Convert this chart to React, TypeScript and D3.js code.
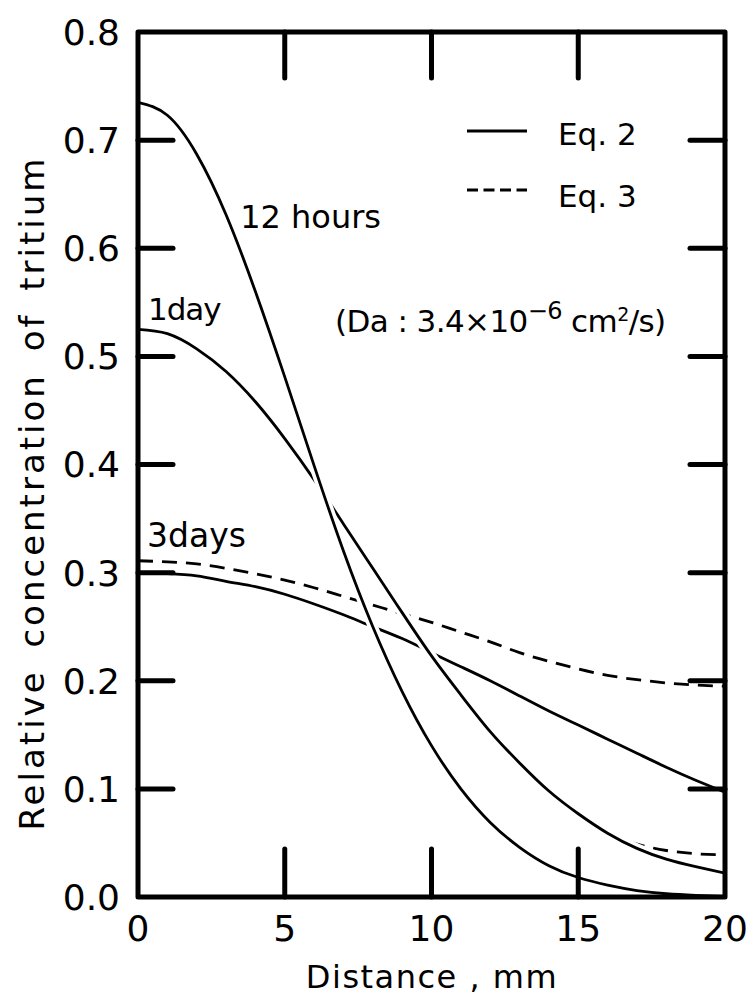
import React from "react";
import * as d3 from "d3";

// ---- data ----
const distance = [0, 1, 2, 3, 4, 5, 6, 7, 8, 9, 10, 11, 12, 13, 14, 15, 16, 17, 18, 19, 20];
const hours12Eq2 = [0.735, 0.723, 0.687, 0.631, 0.56, 0.481, 0.399, 0.32, 0.25, 0.19, 0.14, 0.1, 0.069, 0.046, 0.029, 0.018, 0.011, 0.006, 0.003, 0.0015, 0.0005];
const day1Eq2 = [0.525, 0.521, 0.507, 0.486, 0.458, 0.424, 0.386, 0.345, 0.304, 0.263, 0.223, 0.187, 0.153, 0.124, 0.098, 0.077, 0.059, 0.045, 0.035, 0.028, 0.022];
const day1Eq3Distance = [16, 17, 18, 19, 20];
const day1Eq3 = [0.059, 0.049, 0.043, 0.04, 0.039];
const days3Eq2 = [0.3, 0.299, 0.297, 0.292, 0.287, 0.28, 0.271, 0.261, 0.25, 0.239, 0.226, 0.213, 0.2, 0.186, 0.172, 0.159, 0.146, 0.133, 0.12, 0.108, 0.097];
const days3Eq3 = [0.311, 0.31, 0.308, 0.304, 0.299, 0.293, 0.286, 0.278, 0.27, 0.262, 0.254, 0.245, 0.236, 0.226, 0.218, 0.211, 0.205, 0.201, 0.198, 0.196, 0.195];

const xTickValues = [0, 5, 10, 15, 20];
const xTickLabels = ["0", "5", "10", "15", "20"];
const yTickValues = [0, 0.1, 0.2, 0.3, 0.4, 0.5, 0.6, 0.7, 0.8];
const yTickLabels = ["0.0", "0.1", "0.2", "0.3", "0.4", "0.5", "0.6", "0.7", "0.8"];

const xTitle = "Distance , mm";
const yTitle = "Relative concentration of tritium";
const legendLabels = ["Eq. 2", "Eq. 3"];
const curveLabels = ["12 hours", "1day", "3days"];

const W = 753;
const H = 1001;
const FONT = "'DejaVu Sans', sans-serif";

export default function App() {
  const x = d3.scaleLinear().domain([0, 20]).range([138, 725]);
  const y = d3.scaleLinear().domain([0, 0.8]).range([897, 32]);

  const line = d3
    .line<[number, number]>()
    .x((d) => x(d[0]))
    .y((d) => y(d[1]))
    .curve(d3.curveNatural);

  const pts = (xs: number[], ys: number[]) => xs.map((v, i) => [v, ys[i]] as [number, number]);

  const p12 = line(pts(distance, hours12Eq2)) || "";
  const p1 = line(pts(distance, day1Eq2)) || "";
  const p1d = line(pts(day1Eq3Distance, day1Eq3)) || "";
  const p3 = line(pts(distance, days3Eq2)) || "";
  const p3d = line(pts(distance, days3Eq3)) || "";

  const curveW = 2.8;
  const halo = 10;
  const dash = "15 9";

  const x0 = x(0), x1 = x(20), y0 = y(0), y1 = y(0.8);

  return (
    <svg
      width={W}
      height={H}
      viewBox={`0 0 ${W} ${H}`}
      style={{ position: "fixed", left: 0, top: 0, background: "#fff" }}
      fontFamily={FONT}
    >
      <rect x={0} y={0} width={W} height={H} fill="#fff" />
      <defs>
        <clipPath id="plot">
          <rect x={x0} y={y1} width={x1 - x0} height={y0 - y1} />
        </clipPath>
      </defs>

      <g clipPath="url(#plot)" fill="none" strokeLinecap="butt">
        {/* 3 days */}
        <path d={p3d} stroke="#000" strokeWidth={curveW} strokeDasharray={dash} />
        <path d={p3} stroke="#000" strokeWidth={curveW} />
        {/* 1 day */}
        <path d={p1d} stroke="#000" strokeWidth={curveW} strokeDasharray={dash} />
        <path d={p1} stroke="#fff" strokeWidth={halo} />
        <path d={p1} stroke="#000" strokeWidth={curveW} />
        {/* 12 hours */}
        <path d={p12} stroke="#fff" strokeWidth={halo} />
        <path d={p12} stroke="#000" strokeWidth={curveW} />
      </g>

      {/* frame */}
      <rect x={x0} y={y1} width={x1 - x0} height={y0 - y1} fill="none" stroke="#000" strokeWidth={5} strokeLinejoin="round" />

      {/* ticks */}
      <g stroke="#000" strokeWidth={5} strokeLinecap="round">
        {xTickValues.slice(1, -1).map((v) => (
          <g key={"xt" + v}>
            <line x1={x(v)} x2={x(v)} y1={y0} y2={y0 - 48} />
            <line x1={x(v)} x2={x(v)} y1={y1} y2={y1 + 46} />
          </g>
        ))}
        {yTickValues.slice(1, -1).map((v) => (
          <g key={"yt" + v}>
            <line x1={x0} x2={x0 + 35} y1={y(v)} y2={y(v)} />
            <line x1={x1} x2={x1 - 35} y1={y(v)} y2={y(v)} />
          </g>
        ))}
      </g>

      {/* tick labels */}
      <g fontSize={36} fill="#000">
        {xTickValues.map((v, i) => (
          <text key={"xl" + v} x={x(v)} y={941} textAnchor="middle">
            {xTickLabels[i]}
          </text>
        ))}
        {yTickValues.map((v, i) => (
          <text key={"yl" + v} x={120} y={y(v)} dy="0.36em" textAnchor="end">
            {yTickLabels[i]}
          </text>
        ))}
      </g>

      {/* axis titles */}
      <text x={432} y={988} textAnchor="middle" fontSize={32} letterSpacing={1.5}>
        {xTitle}
      </text>
      <text
        transform={`translate(44, 493) rotate(-90)`}
        textAnchor="middle"
        fontSize={34}
        letterSpacing={3}
        wordSpacing={8}
      >
        {yTitle}
      </text>

      {/* legend */}
      <line x1={467} x2={527} y1={131} y2={131} stroke="#000" strokeWidth={curveW} />
      <line x1={467} x2={527} y1={190} y2={190} stroke="#000" strokeWidth={curveW} strokeDasharray="11 5.5" />
      <text x={558} y={145} fontSize={31}>{legendLabels[0]}</text>
      <text x={558} y={207} fontSize={31}>{legendLabels[1]}</text>

      {/* curve labels */}
      <text x={x(3.48)} y={y(0.619)} fontSize={32}>{curveLabels[0]}</text>
      <text x={x(0.34)} y={y(0.534)} fontSize={31} letterSpacing={-1}>{curveLabels[1]}</text>
      <text x={x(0.31)} y={y(0.324)} fontSize={33}>{curveLabels[2]}</text>

      {/* diffusion coefficient note */}
      <text x={335} y={332} fontSize={31} letterSpacing={-0.6}>
        <tspan>(D</tspan>
        <tspan>a</tspan>
        <tspan> : 3.4×10</tspan>
        <tspan dy={-13} fontSize={24}>−6</tspan>
        <tspan dy={13}> cm</tspan>
        <tspan dy={-11} fontSize={19}>2</tspan>
        <tspan dy={11}>/s)</tspan>
      </text>
    </svg>
  );
}
